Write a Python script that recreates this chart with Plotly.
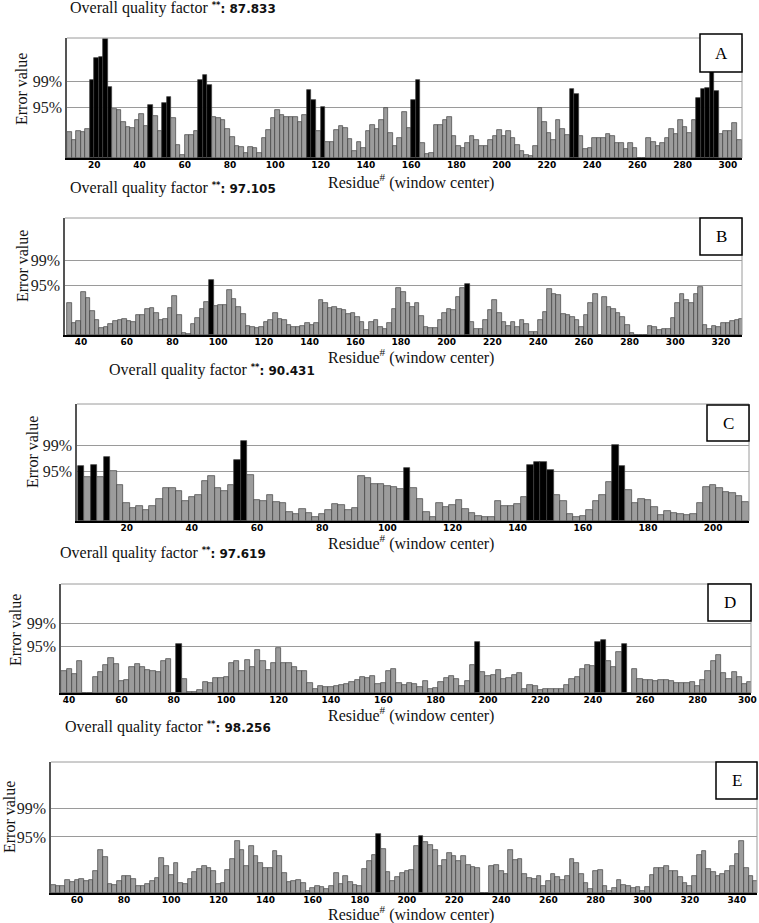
import plotly.graph_objects as go

W, H = 759, 923

# ---------------- data ----------------
panel_labels = ["A", "B", "C", "D", "E"]
quality_factors = ["87.833", "97.105", "90.431", "97.619", "98.256"]
threshold_labels = ["95%", "99%"]
threshold_values = [11.38, 17.19]
STEP = 2  # residues represented by each bar

a_start = 8
a_values = [5.9, 4.1, 6.0, 5.9, 6.5, 17.5, 22.5, 22.7, 26.8, 16.0,
            11.0, 10.8, 8.2, 7.0, 6.7, 8.5, 10.0, 7.2, 11.9, 9.5,
            6.0, 12.4, 13.8, 9.0, 3.0, 0.7, 5.2, 5.2, 6.0, 17.5,
            18.6, 16.5, 9.3, 9.0, 8.5, 6.5, 4.8, 2.8, 2.5, 1.1,
            2.4, 2.2, 1.1, 4.5, 6.2, 9.0, 10.8, 9.6, 9.3, 9.3,
            9.3, 8.0, 9.7, 15.2, 13.0, 6.0, 11.5, 3.7, 3.7, 6.2,
            7.2, 6.7, 4.3, 1.5, 3.5, 2.2, 6.0, 7.4, 6.5, 8.5,
            11.2, 5.6, 2.6, 4.5, 10.4, 6.7, 13.0, 17.5, 3.3, 1.0,
            1.1, 7.4, 7.5, 8.5, 9.3, 5.0, 2.6, 2.3, 3.3, 5.0,
            4.1, 2.6, 2.6, 4.1, 5.0, 6.3, 5.0, 6.0, 4.5, 3.0,
            1.5, 0.7, 0.4, 2.6, 11.2, 8.0, 5.6, 4.1, 8.5, 6.5,
            5.2, 15.6, 14.5, 5.0, 2.0, 2.2, 4.5, 4.5, 4.5, 5.5,
            5.0, 3.3, 3.3, 2.0, 3.3, 2.2, 0.0, 0.0, 4.5, 3.5,
            2.6, 3.3, 4.5, 6.5, 5.5, 8.5, 7.0, 5.6, 8.5, 13.4,
            15.6, 15.8, 20.5, 15.0, 5.5, 6.0, 6.0, 7.8, 4.1]
a_ticks = [20, 40, 60, 80, 100, 120, 140, 160, 180, 200, 220, 240, 260, 280, 300]

b_start = 34
b_values = [7.3, 2.8, 3.2, 10.0, 8.5, 5.5, 3.5, 1.6, 1.8, 2.5,
            3.2, 3.5, 3.8, 3.2, 3.0, 4.6, 4.6, 6.0, 6.2, 5.0,
            3.5, 3.8, 6.2, 9.0, 4.6, 0.4, 0.2, 2.5, 4.0, 6.0,
            7.7, 12.7, 6.7, 6.9, 6.9, 10.4, 8.3, 6.5, 4.8, 2.0,
            1.9, 1.7, 1.9, 3.0, 3.5, 5.0, 3.8, 3.5, 2.3, 1.9,
            1.9, 2.1, 2.8, 2.3, 2.7, 8.1, 7.5, 6.3, 6.4, 6.0,
            5.8, 4.8, 5.0, 4.2, 3.1, 1.2, 3.0, 3.5, 1.9, 1.5,
            2.8, 6.0, 10.8, 10.0, 7.5, 6.5, 7.5, 4.5, 1.8, 1.7,
            1.6, 3.5, 5.0, 6.0, 5.8, 8.8, 10.8, 11.7, 3.1, 1.5,
            1.5, 3.5, 5.8, 8.2, 5.0, 3.0, 2.0, 3.0, 1.8, 3.5,
            2.5, 0.8, 0.8, 3.5, 5.4, 10.6, 9.5, 9.2, 4.8, 4.6,
            4.2, 3.5, 1.9, 4.6, 7.5, 9.6, 0.0, 8.8, 6.5, 6.0,
            5.0, 4.2, 2.4, 0.4, 0.0, 0.0, 0.0, 2.2, 1.8, 1.2,
            1.4, 1.5, 4.0, 7.5, 9.6, 8.2, 7.3, 9.6, 11.2, 2.3,
            1.5, 2.0, 1.9, 2.7, 2.7, 3.3, 3.5, 3.8]
b_ticks = [40, 60, 80, 100, 120, 140, 160, 180, 200, 220, 240, 260, 280, 300, 320]

c_start = 5
c_values = [12.5, 10.0, 12.8, 10.0, 14.5, 11.3, 8.2, 4.0, 3.0, 3.4,
            2.4, 3.5, 5.0, 7.5, 7.5, 6.8, 4.6, 5.4, 6.0, 9.2,
            10.2, 7.5, 6.8, 8.2, 14.0, 18.2, 10.5, 4.8, 4.6, 6.0,
            4.4, 4.0, 2.1, 1.5, 2.8, 1.8, 0.8, 1.5, 2.5, 3.8,
            3.6, 2.5, 3.0, 10.2, 9.8, 8.4, 8.5, 8.0, 7.7, 7.2,
            12.1, 7.5, 5.0, 2.0, 0.9, 4.1, 3.2, 3.7, 4.8, 2.8,
            1.8, 1.1, 0.9, 1.0, 4.5, 3.5, 3.4, 3.9, 5.5, 12.8,
            13.4, 13.4, 11.7, 6.0, 4.5, 1.6, 1.0, 1.1, 2.5, 4.5,
            6.0, 9.0, 17.3, 12.6, 7.0, 4.2, 5.0, 4.8, 3.2, 1.3,
            2.3, 1.8, 1.5, 1.3, 1.7, 4.0, 7.8, 8.2, 7.6, 6.6,
            6.4, 5.6, 4.4]
c_ticks = [20, 40, 60, 80, 100, 120, 140, 160, 180, 200]

d_start = 37
d_values = [5.5, 6.0, 4.8, 7.8, 0.0, 0.0, 4.0, 5.3, 7.0, 8.6,
            7.2, 3.0, 3.3, 6.4, 7.2, 6.3, 5.6, 5.5, 5.3, 7.8,
            8.4, 0.0, 12.2, 3.5, 0.2, 0.2, 0.8, 2.8, 2.4, 3.6,
            3.7, 3.9, 7.5, 8.0, 5.5, 8.2, 6.5, 10.5, 8.0, 5.6,
            7.5, 11.0, 7.3, 7.5, 6.5, 5.5, 5.5, 2.5, 1.1, 1.8,
            1.4, 1.4, 1.8, 2.0, 2.3, 2.7, 3.2, 3.9, 3.8, 4.3,
            2.2, 2.5, 5.5, 6.0, 2.5, 1.9, 2.5, 2.2, 1.5, 3.0,
            1.1, 1.2, 2.7, 3.8, 4.2, 3.5, 1.8, 3.0, 7.0, 12.7,
            5.3, 4.3, 4.5, 5.8, 3.5, 3.6, 4.4, 5.0, 1.0, 2.0,
            1.8, 0.8, 0.9, 1.0, 1.0, 0.9, 2.0, 3.5, 4.0, 6.0,
            7.0, 6.7, 12.7, 13.2, 8.0, 6.4, 10.2, 12.1, 0.0, 6.0,
            3.5, 3.3, 3.3, 3.0, 3.3, 3.1, 3.0, 2.4, 2.4, 2.5,
            2.6, 1.8, 3.3, 5.5, 7.8, 9.5, 5.0, 3.5, 5.3, 4.0,
            2.2, 2.6]
d_ticks = [40, 60, 80, 100, 120, 140, 160, 180, 200, 220, 240, 260, 280, 300]

e_start = 49
e_values = [1.7, 1.4, 1.5, 2.6, 2.2, 2.6, 2.8, 2.4, 2.6, 4.5,
            8.8, 7.3, 1.8, 1.7, 2.5, 3.5, 3.4, 2.8, 1.4, 1.4,
            1.8, 2.4, 3.0, 7.1, 5.5, 3.6, 6.1, 2.0, 1.9, 2.8,
            4.2, 4.8, 5.4, 5.0, 4.5, 1.9, 2.0, 4.7, 7.0, 10.6,
            8.8, 5.5, 9.6, 7.5, 6.0, 5.1, 5.0, 8.6, 7.5, 4.1,
            2.2, 2.4, 2.7, 2.0, 0.5, 1.0, 1.5, 1.2, 0.9, 1.4,
            4.0, 1.8, 3.5, 2.2, 1.6, 1.5, 4.8, 6.5, 7.8, 12.0,
            9.0, 4.2, 2.5, 3.2, 4.1, 4.4, 4.6, 9.6, 11.5, 10.3,
            9.8, 8.8, 5.4, 6.8, 8.1, 7.5, 6.5, 7.5, 5.7, 5.3,
            5.0, 0.0, 0.0, 5.5, 5.6, 4.5, 3.8, 8.8, 6.8, 7.0,
            3.8, 3.0, 2.8, 3.5, 1.5, 2.5, 3.8, 3.2, 2.7, 3.5,
            7.0, 6.0, 3.9, 2.0, 0.8, 4.4, 4.7, 1.5, 0.4, 1.0,
            2.6, 1.6, 1.4, 1.0, 1.2, 0.5, 1.2, 3.6, 5.0, 5.0,
            5.5, 4.5, 4.4, 3.3, 2.0, 1.5, 3.5, 7.8, 8.5, 4.8,
            4.3, 3.5, 3.8, 4.5, 5.5, 8.0, 10.5, 5.0, 3.5, 2.4]
e_ticks = [60, 80, 100, 120, 140, 160, 180, 200, 220, 240, 260, 280, 300, 320, 340]

# ---------------- layout geometry (pixels) ----------------
geom = [
    dict(l=67, r=742, t=38, b=158, x0=8.0, x1=306.2, ytop=27.0,
         title=(68, 8), xtitle=(411, 181), ytitle=(22, 89), box=(700, 742, 34, 72)),
    dict(l=65, r=742, t=218, b=335, x0=33.0, x1=329.2, ytop=27.1,
         title=(68, 188), xtitle=(411, 356), ytitle=(22, 266), box=(700, 742, 218, 255)),
    dict(l=77, r=749, t=404, b=521, x0=4.75, x1=211.0, ytop=26.7,
         title=(107, 370), xtitle=(411, 542), ytitle=(32, 452), box=(707, 749, 405, 441)),
    dict(l=61, r=751, t=584, b=693, x0=36.9, x1=300.4, ytop=26.9,
         title=(58, 553), xtitle=(411, 714), ytitle=(15, 630), box=(708, 751, 584, 621)),
    dict(l=51, r=757, t=762, b=893, x0=49.0, x1=348.5, ytop=26.6,
         title=(63, 727), xtitle=(411, 913), ytitle=(9, 817), box=(716, 757, 762, 799)),
]

series = [(a_start, a_values, a_ticks), (b_start, b_values, b_ticks),
          (c_start, c_values, c_ticks), (d_start, d_values, d_ticks),
          (e_start, e_values, e_ticks)]

GRAY = "#9c9c9c"
EDGE = "#404040"
SERIF = "Liberation Serif"
TICKFONT = dict(family="DejaVu Sans", size=9, color="black", weight="bold")

fig = go.Figure()
layout = dict(width=W, height=H, margin=dict(l=0, r=0, t=0, b=0),
              paper_bgcolor="white", plot_bgcolor="white", showlegend=False,
              bargap=0, shapes=[], annotations=[])

def px(x):
    return x / W

def py(y):
    return 1 - y / H

for i, ((start, vals, ticks), g) in enumerate(zip(series, geom)):
    n = i + 1
    sfx = "" if n == 1 else str(n)
    xa, ya = "x" + sfx, "y" + sfx
    centers = [start + STEP * k + STEP / 2 for k in range(len(vals))]
    colors = ["#000000" if v >= threshold_values[0] else GRAY for v in vals]
    fig.add_trace(go.Bar(x=centers, y=vals, width=STEP, xaxis=xa, yaxis=ya,
                         marker=dict(color=colors, line=dict(color=EDGE, width=0.7)),
                         hoverinfo="skip"))
    layout["xaxis" + sfx] = dict(
        domain=[px(g["l"]), px(g["r"])], range=[g["x0"], g["x1"]], anchor=ya,
        tickvals=ticks, ticktext=[str(t) for t in ticks], showgrid=False,
        zeroline=False, showline=True, linecolor="black", linewidth=2, ticks="",
        ticklabelstandoff=-3, tickfont=TICKFONT)
    layout["yaxis" + sfx] = dict(
        domain=[py(g["b"]), py(g["t"])], range=[0, g["ytop"]], anchor=xa,
        tickvals=threshold_values, ticktext=threshold_labels, showgrid=True,
        gridcolor="#9a9a9a", gridwidth=1, zeroline=False, showline=True,
        linecolor="#555555", linewidth=1.5, ticks="",
        tickfont=dict(family=SERIF, size=16, color="#222222"))
    layout["shapes"].append(dict(type="line", xref=xa + " domain", yref=ya + " domain",
                                 x0=0, x1=1, y0=1, y1=1, line=dict(color="#9a9a9a", width=1)))
    layout["shapes"].append(dict(type="line", xref=xa + " domain", yref=ya + " domain",
                                 x0=1, x1=1, y0=0, y1=1, line=dict(color="#9a9a9a", width=1)))
    bx0, bx1, by0, by1 = g["box"]
    layout["shapes"].append(dict(type="rect", xref="paper", yref="paper",
                                 x0=px(bx0), x1=px(bx1), y0=py(by1), y1=py(by0),
                                 fillcolor="white", line=dict(color="black", width=1.5),
                                 layer="above"))
    layout["annotations"].append(dict(xref="paper", yref="paper",
                                      x=px((bx0 + bx1) / 2), y=py((by0 + by1) / 2),
                                      text=panel_labels[i], showarrow=False,
                                      font=dict(family=SERIF, size=17, color="black"),
                                      xanchor="center", yanchor="middle"))
    tx, ty = g["title"]
    title = ('Overall quality factor '
             '<span style="font-family:DejaVu Sans;font-weight:bold;font-size:12px">'
             '<sup>**</sup>: ' + quality_factors[i] + '</span>')
    layout["annotations"].append(dict(xref="paper", yref="paper", x=px(tx), y=py(ty),
                                      text=title, showarrow=False, xanchor="left",
                                      yanchor="middle",
                                      font=dict(family=SERIF, size=16, color="#111111")))
    xx, xy = g["xtitle"]
    layout["annotations"].append(dict(xref="paper", yref="paper", x=px(xx), y=py(xy),
                                      text="Residue<sup>#</sup> (window center)",
                                      showarrow=False, xanchor="center", yanchor="middle",
                                      font=dict(family=SERIF, size=16, color="#111111")))
    yx, yy = g["ytitle"]
    layout["annotations"].append(dict(xref="paper", yref="paper", x=px(yx), y=py(yy),
                                      text="Error value", textangle=-90, showarrow=False,
                                      xanchor="center", yanchor="middle",
                                      font=dict(family=SERIF, size=16, color="#111111")))

# the last tick of panel D sits on the page edge; draw it right-aligned to the edge
layout["annotations"].append(dict(xref="paper", yref="paper", x=1.0, y=py(700),
                                  text=str(d_ticks[-1]), showarrow=False,
                                  xanchor="right", yanchor="middle", font=TICKFONT))

fig.update_layout(**layout)
fig.write_html("out.html", config={"displayModeBar": False},
               post_script="document.body.style.margin='0px';")
